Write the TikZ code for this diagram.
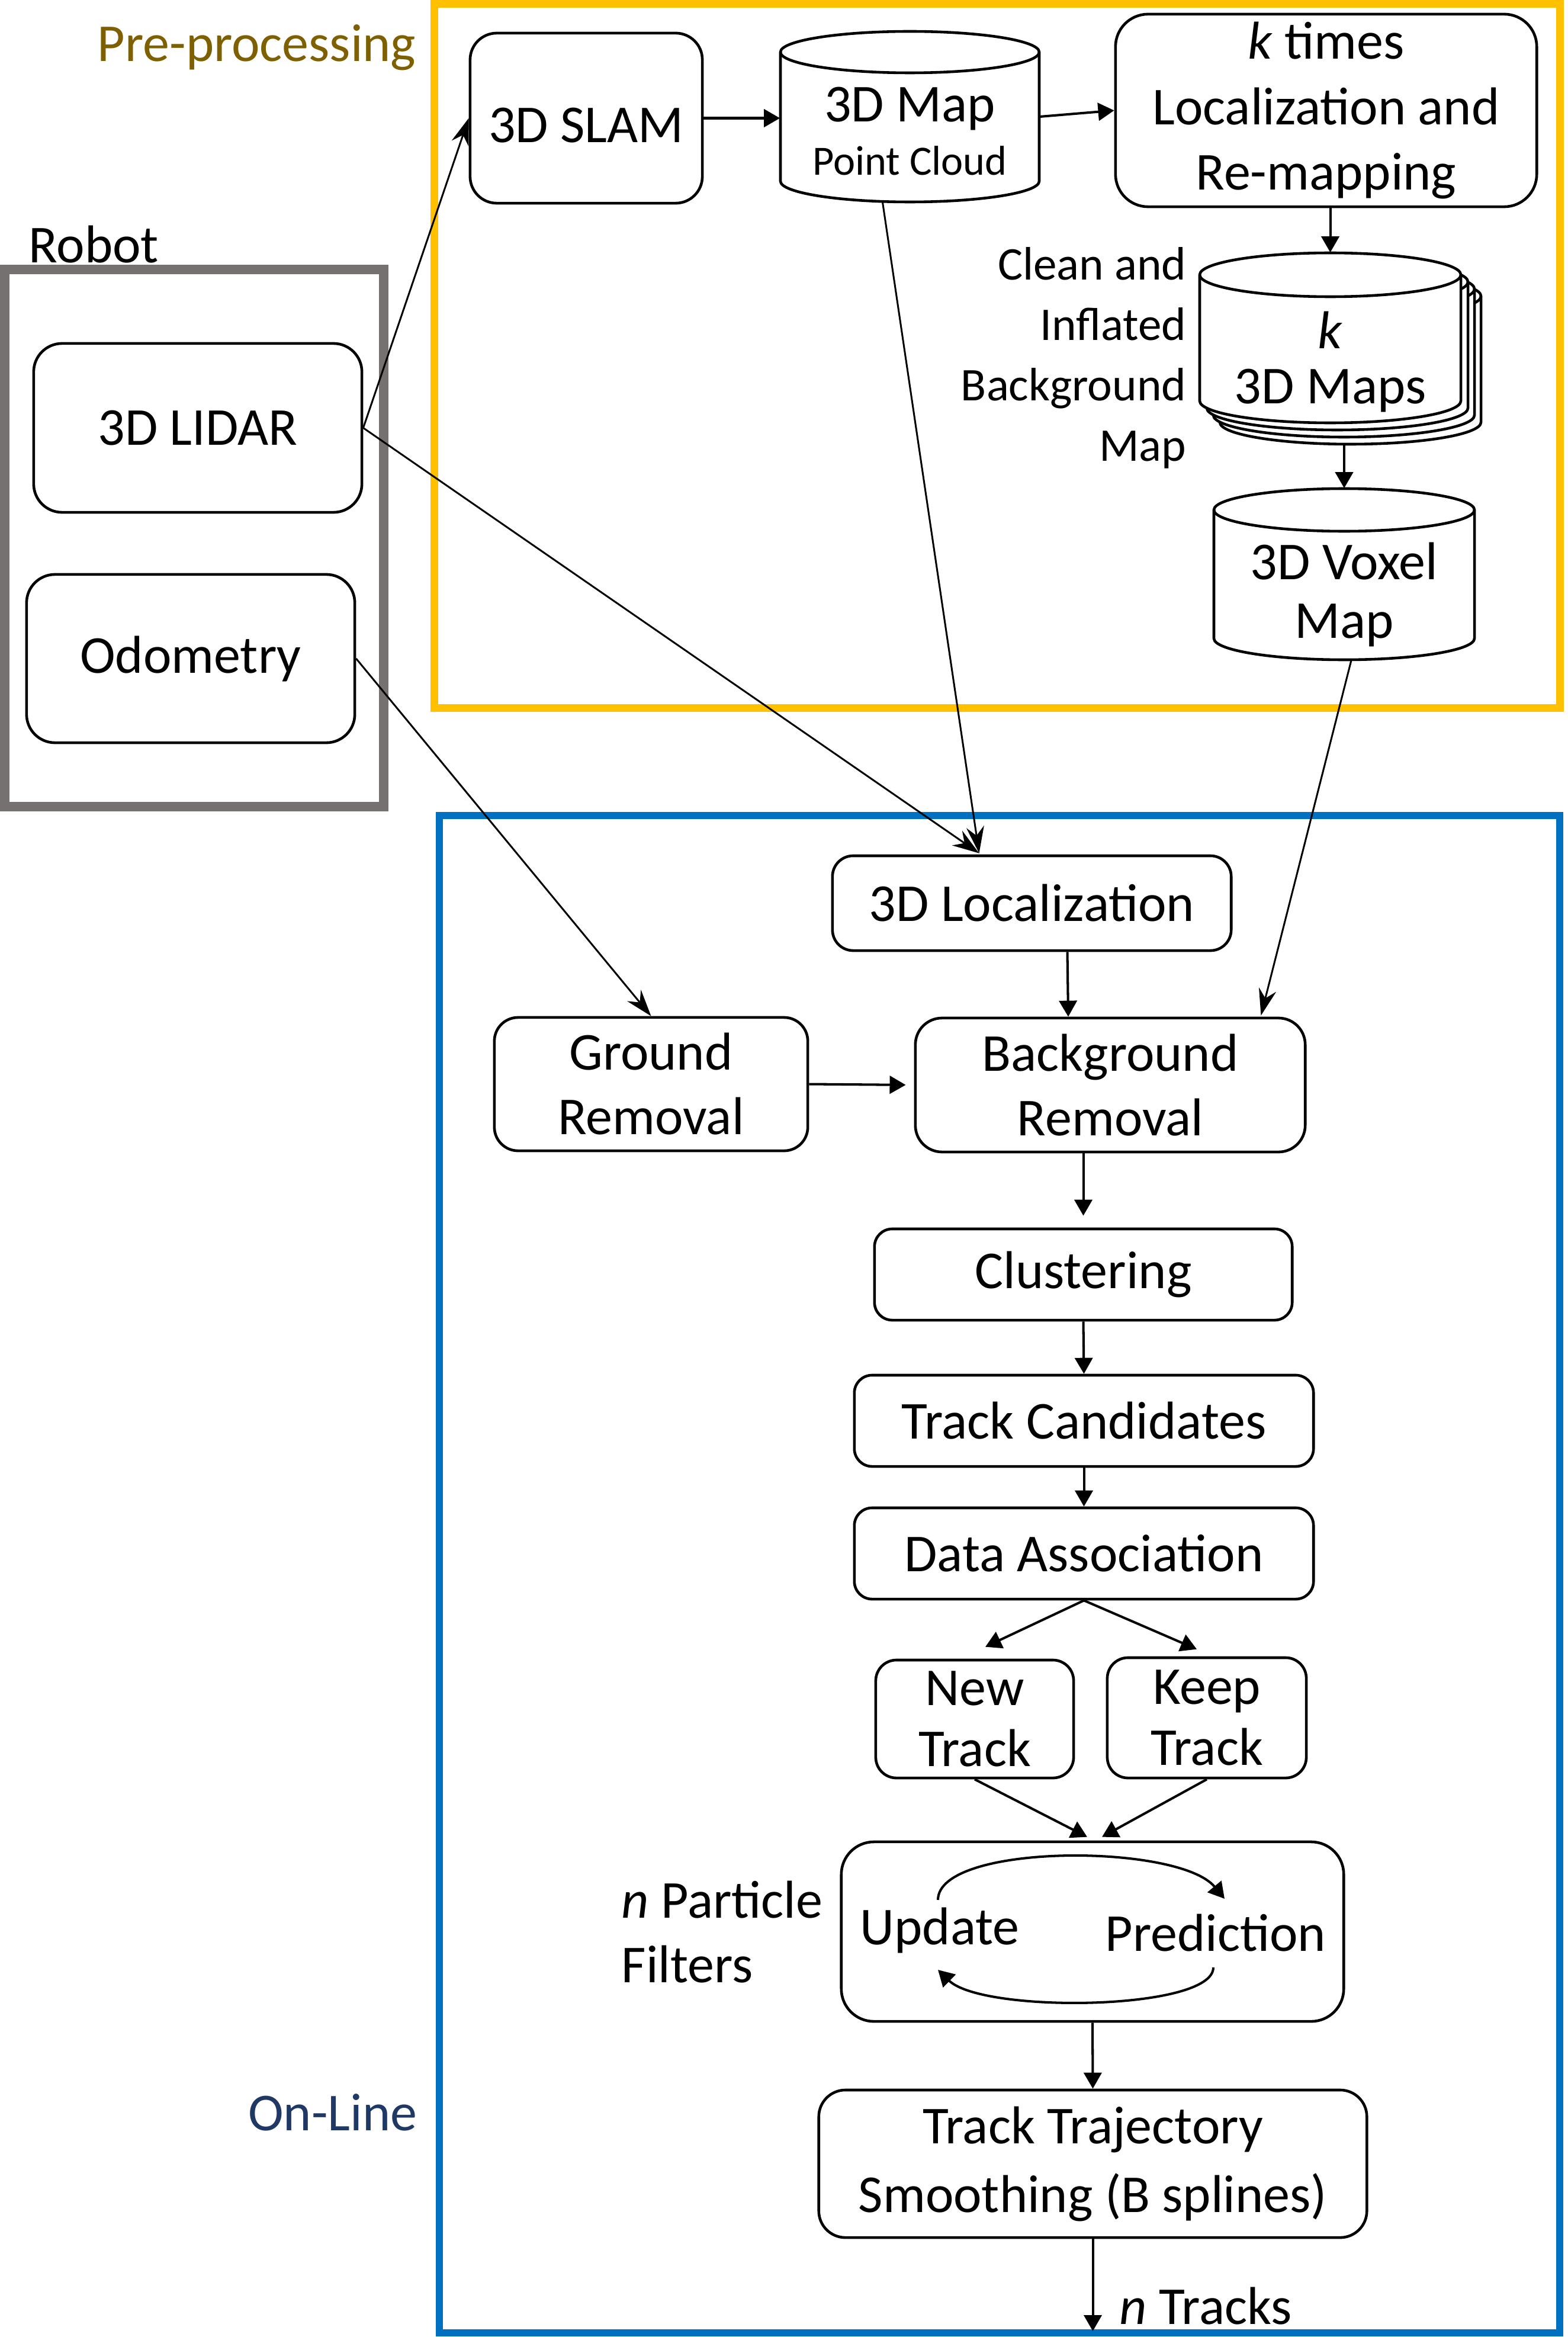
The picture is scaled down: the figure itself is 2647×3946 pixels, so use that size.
\documentclass[tikz,border=0pt]{standalone}
\usepackage{fontspec}
\setmainfont{Carlito}
\usetikzlibrary{arrows.meta,calc}
\definecolor{frameyellow}{HTML}{FFC000}
\definecolor{framegray}{HTML}{767171}
\definecolor{frameblue}{HTML}{0070C0}
\definecolor{pretext}{HTML}{7F6000}
\definecolor{onlinetext}{HTML}{1F3864}
\newcommand\bigtxt{\fontsize{25.6pt}{31pt}\selectfont}
\newcommand\midtxt{\fontsize{22.5pt}{29pt}\selectfont}
\newcommand\smalltxt{\fontsize{20pt}{24pt}\selectfont}
% cylinder: cx, top, half width, height, ry  (pixel units, y down)
\newcommand\mycyl[5]{%
  \pgfmathsetmacro\cL{#1-#3}\pgfmathsetmacro\cR{#1+#3}%
  \pgfmathsetmacro\cT{#2+#5}\pgfmathsetmacro\cB{#2+#4-#5}%
  \pgfmathsetmacro\kx{0.5523*#3}\pgfmathsetmacro\ky{0.5523*#5}%
  \draw[cylline] (\cL,\cT) -- (\cL,\cB)
    .. controls (\cL,\cB+\ky) and (#1-\kx,\cB+#5) .. (#1,\cB+#5)
    .. controls (#1+\kx,\cB+#5) and (\cR,\cB+\ky) .. (\cR,\cB)
    -- (\cR,\cT)
    .. controls (\cR,\cT-\ky) and (#1+\kx,\cT-#5) .. (#1,\cT-#5)
    .. controls (#1-\kx,\cT-#5) and (\cL,\cT-\ky) .. cycle;
  \draw[cylline, fill=none] (\cL,\cT)
    .. controls (\cL,\cT+\ky) and (#1-\kx,\cT+#5) .. (#1,\cT+#5)
    .. controls (#1+\kx,\cT+#5) and (\cR,\cT+\ky) .. (\cR,\cT);
}
\begin{document}
\begin{tikzpicture}[x=0.01cm, y=-0.01cm,
  box/.style={draw=black, line width=1.3pt, fill=white, inner sep=0pt, align=center, font=\bigtxt},
  area/.style={inner sep=0pt, draw=none},
  txt/.style={inner sep=0pt, font=\bigtxt, align=center},
  cylline/.style={draw=black, line width=1.3pt, fill=white},
  flow/.style={line width=1.15pt, -{Triangle[length=0.27cm,width=0.3cm]}},
  longarrow/.style={line width=0.85pt, -{Stealth[length=0.45cm,width=0.3cm,inset=0.15cm]}},
  yframe/.style={draw=frameyellow, line width=3.7pt},
  gframe/.style={draw=framegray, line width=4.55pt},
  bframe/.style={draw=frameblue, line width=3.4pt}]
\useasboundingbox (0,0) rectangle (2647,3946);

% frames
\draw[yframe] (733.5,7) rectangle (2634,1195);
\draw[gframe] (8,455) rectangle (648,1362);
\draw[bframe] (742,1377) rectangle (2634,3939);

% frame labels
\node[anchor=base east, inner sep=0pt, font=\bigtxt, text=pretext] (prelabel) at (703,104) {Pre-processing};
\node[anchor=base east, inner sep=0pt, font=\bigtxt, text=onlinetext] (onlabel) at (705,3597) {On-Line};
\node[anchor=base west, inner sep=0pt, font=\bigtxt] (robotlabel) at (48,444) {Robot};

% robot
\node[box, rounded corners=0.48cm, minimum width=5.54cm, minimum height=2.85cm] (lidar) at (334,722.5) {3D LIDAR};
\node[box, rounded corners=0.48cm, minimum width=5.54cm, minimum height=2.84cm] (odo) at (322,1112) {Odometry};

% pre-processing
\node[box, rounded corners=0.45cm, minimum width=3.92cm, minimum height=2.87cm] (slam) at (990,199.5) {\raisebox{-0.12cm}[\height][\depth]{3D SLAM}};
\node[box, rounded corners=0.55cm, minimum width=7.11cm, minimum height=3.25cm, font=\fontsize{25.6pt}{31.3pt}\selectfont] (ktimes) at (2239.5,186.5) {\textit{k} times\\Localization and\\Re-mapping};

\node[area, minimum width=4.37cm, minimum height=2.88cm] (map) at (1536.5,197) {};
\mycyl{1536.5}{53}{218.5}{288}{35}
\node[txt] (maptitle) at (1536.5,184) {3D Map};
\node[txt, font=\smalltxt] (mapsub) at (1536.5,271) {Point Cloud};

\node[area, minimum width=4.41cm, minimum height=2.87cm] (kmaps) at (2246.5,570.5) {};
\mycyl{2246.5+34}{427+36}{220.5}{287}{37}
\mycyl{2246.5+23}{427+24}{220.5}{287}{37}
\mycyl{2246.5+12}{427+12}{220.5}{287}{37}
\mycyl{2246.5}{427}{220.5}{287}{37}
\node[txt, font=\fontsize{25.6pt}{26.5pt}\selectfont] (kmapstxt) at (2246.5,611) {\textit{k}\\3D Maps};

\node[area, minimum width=4.40cm, minimum height=2.89cm] (voxel) at (2270,969.5) {};
\mycyl{2270}{825}{220}{289}{36}
\node[txt, font=\fontsize{25.6pt}{28pt}\selectfont] (voxeltxt) at (2270,1004) {3D Voxel\\Map};

\node[anchor=east, inner sep=0pt, align=right, font=\midtxt] (cleanlabel) at (2004,604) {Clean and\\Inflated\\Background\\Map};

% on-line
\node[box, rounded corners=0.35cm, minimum width=6.73cm, minimum height=1.60cm] (loc) at (1742.5,1525) {3D Localization};
\node[box, rounded corners=0.4cm, minimum width=5.29cm, minimum height=2.25cm] (gr) at (1099.5,1830.5) {Ground\\Removal};
\node[box, rounded corners=0.45cm, minimum width=6.58cm, minimum height=2.26cm] (br) at (1875,1832) {Background\\Removal};
\node[box, rounded corners=0.3cm, minimum width=7.05cm, minimum height=1.54cm] (clus) at (1829.5,2152) {Clustering};
\node[box, rounded corners=0.3cm, minimum width=7.75cm, minimum height=1.54cm] (tc) at (1830.5,2399) {Track Candidates};
\node[box, rounded corners=0.3cm, minimum width=7.75cm, minimum height=1.54cm] (da) at (1830.5,2623) {Data Association};
\node[box, rounded corners=0.35cm, minimum width=3.34cm, minimum height=1.99cm, font=\fontsize{25.6pt}{29.5pt}\selectfont] (new) at (1646,2902.5) {New\\Track};
\node[box, rounded corners=0.35cm, minimum width=3.36cm, minimum height=2.03cm, font=\fontsize{25.6pt}{29.5pt}\selectfont] (keep) at (2038,2900.5) {Keep\\Track};
\node[box, rounded corners=0.55cm, minimum width=8.48cm, minimum height=3.03cm] (pf) at (1845,3261.5) {};
\node[txt] (upd) at (1587,3259) {Update};
\node[txt] (pred) at (2053,3264) {Prediction};
\node[box, rounded corners=0.45cm, minimum width=9.25cm, minimum height=2.49cm, font=\fontsize{25.6pt}{33pt}\selectfont] (tts) at (1845.5,3653.5) {Track Trajectory\\Smoothing (B splines)};

\node[anchor=west, inner sep=0pt, align=left, font=\bigtxt] (pflabel) at (1049,3262) {\textit{n} Particle\\Filters};
\node[anchor=west, inner sep=0pt, font=\bigtxt] (tracks) at (1890,3894) {\textit{n} Tracks};
\coordinate (out) at (1845.5,3936);

% connectors: long thin arrows
\coordinate (locin) at ($(loc.north west)+(250,-2)$);
\draw[longarrow] (lidar.east) -- (slam.west);
\draw[longarrow] (lidar.east) -- (locin);
\draw[longarrow] ($(map.south)+(-46,0)$) -- (locin);
\draw[longarrow] (odo.east) -- (gr.north);
\draw[longarrow] ($(voxel.south)+(12,0)$) -- ($(br.north east)+(-77,-2)$);

% pre-processing flow
\draw[flow] (slam.east) -- (map.west |- slam.east);
\draw[flow] (map.east) -- (ktimes.west);
\draw[flow] (kmaps.north |- ktimes.south) -- (kmaps.north);
\draw[flow] ($(voxel.north |- kmaps.south)+(0,34)$) -- (voxel.north);

% on-line flow
\draw[flow] ($(loc.south)+(60,0)$) -- ($(br.north)+(-71,0)$);
\draw[flow, shorten >=0.14cm] (gr.east) -- (br.west);
\draw[flow, shorten >=0.2cm] (br.south -| clus.north) -- (clus.north);
\draw[flow] (clus.south) -- (tc.north);
\draw[flow] (tc.south) -- (da.north);
\draw[flow] (da.south) -- ($(new.north)+(18,-20)$);
\draw[flow] (da.south) -- ($(keep.north)+(-17,-12)$);
\draw[flow] (new.south) -- ($(pf.north)+(-9,-6)$);
\draw[flow] (keep.south) -- ($(pf.north)+(16,-6)$);
\draw[flow] (pf.south) -- (tts.north);
\draw[flow] (tts.south) -- (out);

% particle filter loop
\draw[flow] ($(upd.center)+(-3,-51)$) .. controls +(0,-96) and +(-78,-94) .. ($(pred.center)+(15,-58)$);
\draw[flow] ($(pred.center)+(-4,58)$) .. controls +(0,73) and +(76,74) .. ($(upd.center)+(-3,67)$);
\end{tikzpicture}
\end{document}
